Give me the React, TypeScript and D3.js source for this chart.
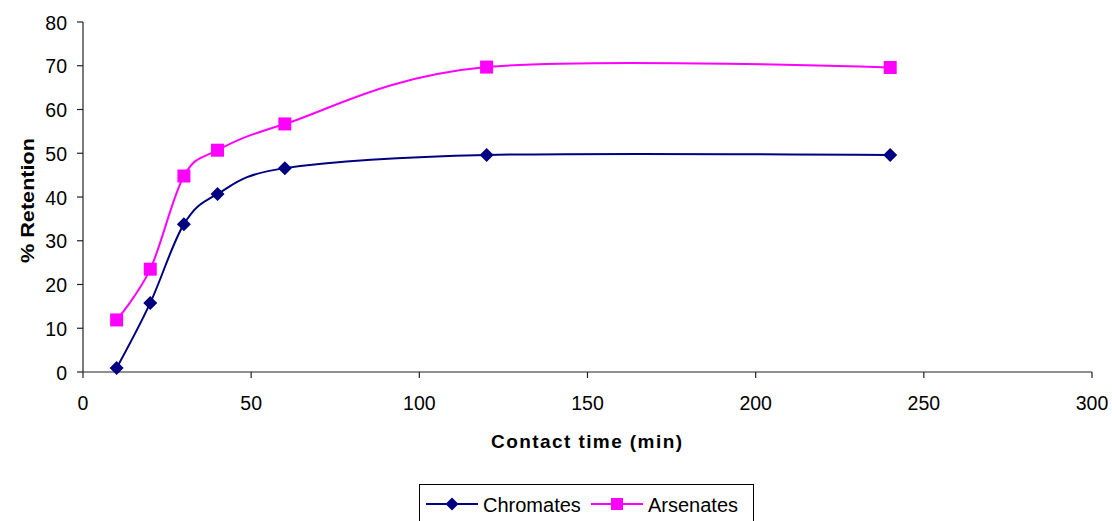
import React from "react";
import * as d3 from "d3";

const times = [10, 20, 30, 40, 60, 120, 240];
const chromates = [0.9, 15.8, 33.8, 40.7, 46.6, 49.6, 49.6];
const arsenates = [11.9, 23.5, 44.8, 50.7, 56.7, 69.7, 69.6];
const xTicks = [0, 50, 100, 150, 200, 250, 300];
const yTicks = [0, 10, 20, 30, 40, 50, 60, 70, 80];

const W = 1112, H = 521;
const font = "Liberation Sans, Arial, sans-serif";

export default function App() {
  const x = d3.scaleLinear().domain([0, 300]).range([83, 1092]);
  const y = d3.scaleLinear().domain([0, 80]).range([372, 22]);
  const line = d3
    .line<[number, number]>()
    .x((d) => x(d[0]))
    .y((d) => y(d[1]))
    .curve(d3.curveCatmullRom.alpha(0));
  const cPts = times.map((t, i) => [t, chromates[i]] as [number, number]);
  const aPts = times.map((t, i) => [t, arsenates[i]] as [number, number]);
  const diamond = (cx: number, cy: number, r = 7) =>
    `M${cx},${cy - r}L${cx + r},${cy}L${cx},${cy + r}L${cx - r},${cy}Z`;
  const navy = "#000080";
  const mag = "#FF00FF";
  const axisCol = "#222";
  return (
    <svg width={W} height={H} style={{ position: "absolute", left: 0, top: 0, background: "#fff" }}>
      {/* axes */}
      <line x1={83} y1={y(0)} x2={83} y2={y(80)} stroke={axisCol} strokeWidth={1.2} />
      <line x1={83} y1={y(0)} x2={x(300)} y2={y(0)} stroke={axisCol} strokeWidth={1.2} />
      {yTicks.map((t) => (
        <g key={"y" + t}>
          <line x1={77} x2={83} y1={y(t)} y2={y(t)} stroke={axisCol} strokeWidth={1.2} />
          <text x={67} y={y(t) + 7.5} textAnchor="end" fontFamily={font} fontSize={19.5} fill="#000">
            {t}
          </text>
        </g>
      ))}
      {xTicks.map((t) => (
        <g key={"x" + t}>
          <line x1={x(t)} x2={x(t)} y1={y(0)} y2={y(0) + 6} stroke={axisCol} strokeWidth={1.2} />
          <text x={x(t)} y={409.5} textAnchor="middle" fontFamily={font} fontSize={19.5} fill="#000">
            {t}
          </text>
        </g>
      ))}
      <text
        x={491}
        y={448}
        fontFamily={font}
        fontSize={19}
        fontWeight="bold"
        textLength={191}
        lengthAdjust="spacing"
      >
        Contact time (min)
      </text>
      <text
        transform={`translate(34,263) rotate(-90)`}
        fontFamily={font}
        fontSize={19}
        fontWeight="bold"
        textLength={125}
        lengthAdjust="spacingAndGlyphs"
      >
        % Retention
      </text>
      {/* lines */}
      <path d={line(cPts) || ""} fill="none" stroke={navy} strokeWidth={2} />
      <path d={line(aPts) || ""} fill="none" stroke={mag} strokeWidth={2} />
      {cPts.map((p, i) => (
        <path key={"c" + i} d={diamond(x(p[0]), y(p[1]))} fill={navy} />
      ))}
      {aPts.map((p, i) => (
        <rect key={"a" + i} x={x(p[0]) - 6.5} y={y(p[1]) - 6.5} width={13} height={13} fill={mag} />
      ))}
      {/* legend */}
      <rect x={419.5} y={484.5} width={334} height={40} fill="#fff" stroke="#000" strokeWidth={1} />
      <line x1={426} x2={478} y1={504} y2={504} stroke={navy} strokeWidth={2} />
      <path d={diamond(452, 504, 6.5)} fill={navy} />
      <text x={483} y={511.5} fontFamily={font} fontSize={20}>
        Chromates
      </text>
      <line x1={591} x2={643} y1={504} y2={504} stroke={mag} strokeWidth={2} />
      <rect x={611} y={498} width={12} height={12} fill={mag} />
      <text x={648} y={511.5} fontFamily={font} fontSize={20}>
        Arsenates
      </text>
    </svg>
  );
}
